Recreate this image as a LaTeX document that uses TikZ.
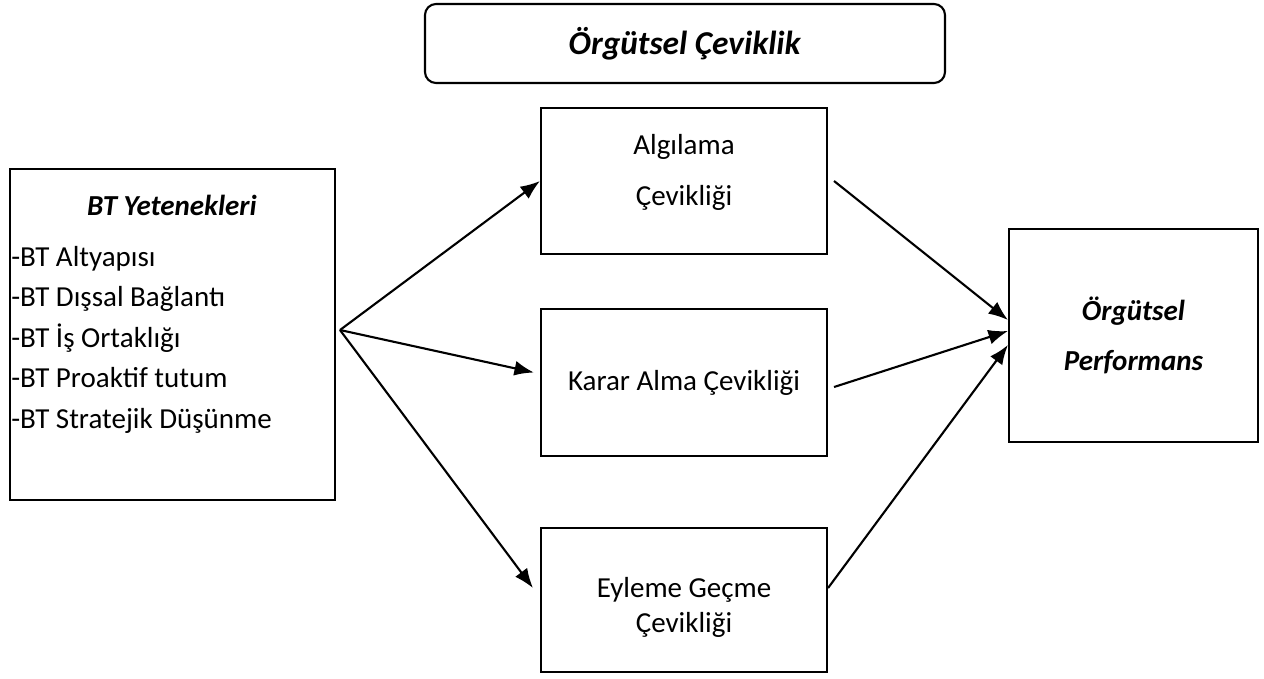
\documentclass[tikz,border=0pt]{standalone}
\usepackage{fontspec}
\setmainfont{Carlito}
\usetikzlibrary{arrows.meta}
\tikzset{arrowout/.style={-{Latex[length=3.9mm,width=3mm]},line width=1.2pt},box/.style={rectangle,draw=black,line width=1.2pt,align=center,inner sep=0pt},header/.style={rectangle,rounded corners=0.22cm,draw=black,line width=1.2pt},item/.style={anchor=base west,inner sep=0pt}}

\begin{document}
\begin{tikzpicture}[font=\fontsize{16.5}{20}\selectfont]
\useasboundingbox (0,0) rectangle (25.28,-13.56);
%heading
\node (head) at (13.7,-0.87)[header,minimum width=10.4cm,minimum height=1.58cm,font=\fontsize{19}{23}\selectfont]{\textbf{\textit{Örgütsel Çeviklik}}};

%capabilities
\node (bt) at (3.45,-6.69)[box,minimum width=6.5cm,minimum height=6.62cm]{};
\node (btt) at (3.44,-4.3)[anchor=base]{\textbf{\textit{BT Yetenekleri}}};
\foreach \t [count=\i from 0] in {Altyapısı,Dışsal Bağlantı,İş Ortaklığı,Proaktif tutum,Stratejik Düşünme}
  \node (bt\i) at (0.22,-5.32-0.81*\i)[item]{-BT \t};

%agility
\node (alg) at (13.68,-3.62)[box,minimum width=5.72cm,minimum height=2.92cm]{};
\node (algt) at ([yshift=0.17cm]alg.center)[align=center]{Algılama\\[9pt]Çevikliği};
\node (kar) at (13.68,-7.65)[box,minimum width=5.72cm,minimum height=2.94cm]{Karar Alma Çevikliği};
\node (eyl) at (13.68,-12.0)[box,minimum width=5.72cm,minimum height=2.88cm]{};
\node (eylt) at ([yshift=-0.14cm]eyl.center)[align=center]{Eyleme Geçme\\Çevikliği};

%performance
\node (perf) at (22.67,-6.71)[box,minimum width=4.98cm,minimum height=4.26cm]{\textbf{\textit{Örgütsel}}\\[8.5pt]\textbf{\textit{Performans}}};

%links
\coordinate (src) at (6.8,-6.6);
\draw[arrowout] (src) -- (alg.west);
\draw[arrowout] (src) -- ([shift={(-0.12,0.2)}]kar.west);
\draw[arrowout] (src) -- ([shift={(-0.14,0.24)}]eyl.west);
\draw[arrowout] ([xshift=0.12cm]alg.east) -- ([yshift=0.31cm]perf.west);
\draw[arrowout] ([shift={(0.12,-0.09)}]kar.east) -- ([yshift=0.09cm]perf.west);
\draw[arrowout] ([yshift=0.24cm]eyl.east) -- ([yshift=-0.19cm]perf.west);
\end{tikzpicture}
\end{document}
